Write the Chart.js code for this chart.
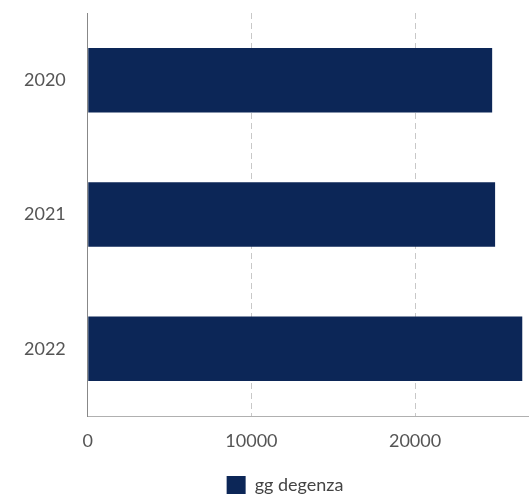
<!DOCTYPE html>
<html>
<head>
<meta charset="utf-8">
<script src="https://cdn.jsdelivr.net/npm/chart.js@4"></script>
<style>
  html, body { margin: 0; padding: 0; background: #fff; }
  #wrap { width: 529px; height: 495px; }
</style>
</head>
<body>
<div id="wrap"><canvas id="grafico"></canvas></div>
<script>
const anni = ["2020", "2021", "2022"];
const ggDegenza = [24710, 24890, 26550];
const etichettaSerie = "gg degenza";
const tickX = [0, 10000, 20000];

const colore = '#0c2657';

// la legenda nell'originale e' un po' spostata a destra
const spostaLegenda = {
  id: 'spostaLegenda',
  afterLayout(chart) {
    chart.legend.left += 20;
    chart.legend.right += 20;
  }
};

const ctx = document.getElementById('grafico').getContext('2d');
new Chart(ctx, {
  type: 'bar',
  data: {
    labels: anni,
    datasets: [{
      label: etichettaSerie,
      data: ggDegenza,
      backgroundColor: colore,
      borderWidth: 0,
      categoryPercentage: 1,
      barPercentage: 0.48
    }]
  },
  options: {
    indexAxis: 'y',
    responsive: true,
    maintainAspectRatio: false,
    animation: false,
    layout: { padding: { top: 13, right: 1, left: 2, bottom: -9 } },
    scales: {
      x: {
        min: 0,
        max: 26900,
        afterBuildTicks: (scale) => {
          scale.ticks = tickX.map(v => ({ value: v }));
        },
        afterFit: (scale) => { scale.height = 58; },
        grid: { color: '#c8c8c8', drawTicks: false, lineWidth: 1 },
        border: { display: true, color: '#b0b0b0', dash: [6, 4] },
        ticks: {
          padding: 14,
          color: '#555',
          font: { family: 'Lato', size: 18 },
          callback: (v) => String(v)
        }
      },
      y: {
        afterFit: (scale) => {
          scale.paddingTop = 0;
          scale.paddingBottom = 0;
        },
        grid: { display: false, drawTicks: false },
        border: { display: true, color: '#888' },
        ticks: {
          padding: 22,
          color: '#555',
          font: { family: 'Lato', size: 18 }
        }
      }
    },
    plugins: {
      legend: {
        position: 'bottom',
        labels: {
          boxWidth: 19,
          boxHeight: 18,
          color: '#444',
          font: { family: 'Lato', size: 18 },
          padding: 2
        }
      },
      tooltip: { enabled: false }
    }
  },
  plugins: [spostaLegenda]
});
</script>
</body>
</html>
